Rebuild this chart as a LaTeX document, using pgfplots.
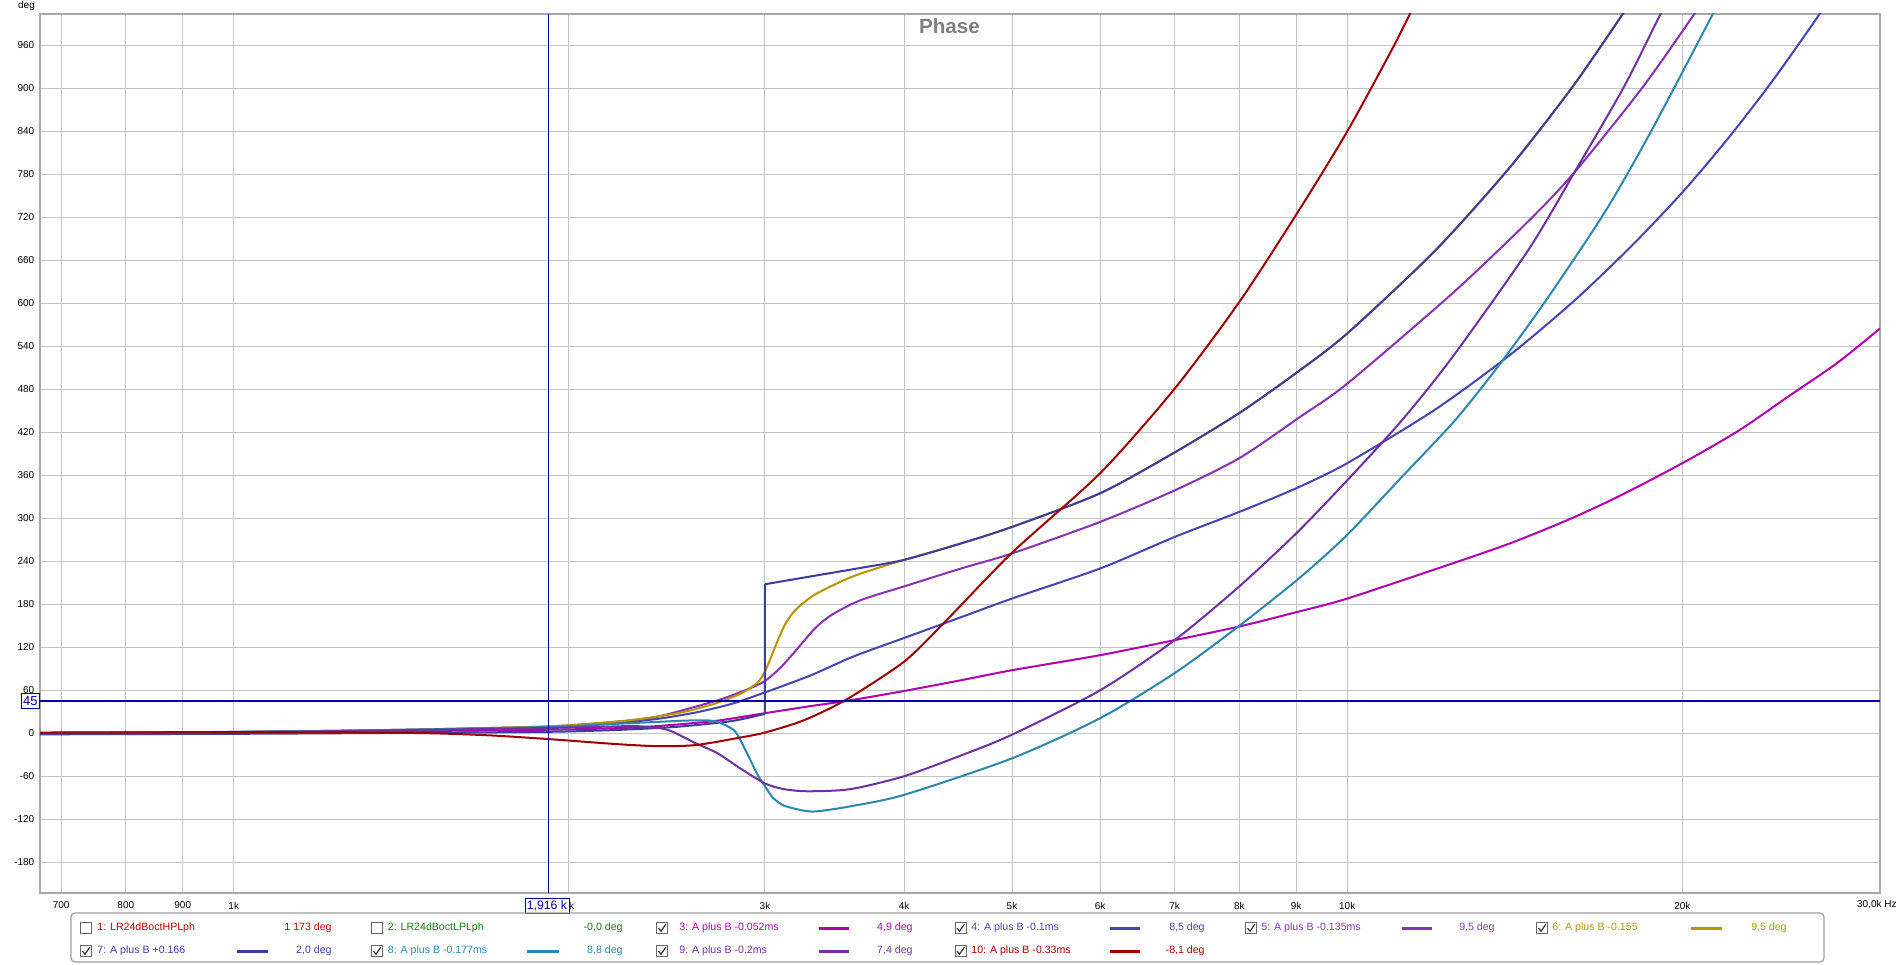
\documentclass[border=0pt]{standalone}
\usepackage{pgfplots}
\pgfplotsset{compat=1.18}
\usepackage{fontspec}
\setmainfont{Liberation Sans}

\definecolor{cthree}{HTML}{B000B0}
\definecolor{cfour}{HTML}{4444B4}
\definecolor{cfive}{HTML}{8A30B4}
\definecolor{csix}{HTML}{B89400}
\definecolor{cseven}{HTML}{3C3CA0}
\definecolor{ceight}{HTML}{2A88B0}
\definecolor{cnine}{HTML}{7030A0}
\definecolor{cten}{HTML}{A00000}
\definecolor{cone}{HTML}{C00000}
\definecolor{ctwo}{HTML}{108010}
\definecolor{cursor}{HTML}{0000A0}
\definecolor{gridgray}{HTML}{C4C4C4}
\definecolor{framegray}{HTML}{A8A8A8}
\definecolor{titlegray}{HTML}{808080}

\newcommand{\tickfont}{\fontsize{5}{6}\selectfont}
\newcommand{\legfont}{\fontsize{5.3}{6}\selectfont}

\begin{document}
\begin{tikzpicture}
\path[use as bounding box] (0,0) rectangle (949.5pt,482pt);
\begin{axis}[
  at={(20pt,35.5pt)}, anchor=south west,
  width=920pt, height=439.5pt, scale only axis,
  xmode=log, log basis x=10,
  xmin=670, xmax=30100, ymin=-223, ymax=1004,
  xtick={700,800,900,1000,2000,3000,4000,5000,6000,7000,8000,9000,10000,20000},
  xticklabels={700,800,900,1k,2k,3k,4k,5k,6k,7k,8k,9k,10k,20k},
  ytick={-180,-120,-60,0,60,120,180,240,300,360,420,480,540,600,660,720,780,840,900,960},
  yticklabels={-180,-120,-60,0,60,120,180,240,300,360,420,480,540,600,660,720,780,840,900,960},
  minor xtick={}, 
  grid=major,
  major grid style={draw=gridgray, line width=0.5pt},
  major tick length=0pt, minor tick length=0pt,
  axis line style={draw=framegray, line width=1pt},
  tick label style={font=\tickfont, text=black},
  yticklabel style={inner sep=0pt, anchor=east, xshift=-2.7pt},
  xticklabel style={inner sep=0pt, anchor=north, yshift=-4.2pt},
  every axis plot/.append style={line width=1pt, line join=round, smooth, tension=0.45},
]
% 3: A plus B -0.052ms
\addplot[cthree] table[row sep=\\] {
f p\\ 670 0.2\\ 800 0.6\\ 1000 1.2\\ 1250 2.2\\ 1500 3.2\\ 1916 4.9\\ 2200 7\\ 2400 10\\ 2700 17\\ 3000 28\\ 3300 38\\ 3580 46\\ 4000 59\\ 4500 74\\ 5000 88\\ 6000 109\\ 7000 130\\ 8000 149\\ 9000 169\\ 10000 188\\ 12430 237\\ 14000 265\\ 15740 297\\ 17500 330\\ 20000 377\\ 22500 423\\ 25000 472\\ 27500 516\\ 30100 565\\
};
% 4: A plus B -0.1ms
\addplot[cfour] table[row sep=\\] {
f p\\ 670 -0.5\\ 800 0.3\\ 1000 1.5\\ 1250 3\\ 1500 5\\ 1916 8.5\\ 2200 14\\ 2400 20\\ 2600 29\\ 2800 41\\ 3000 57\\ 3300 81\\ 3600 107\\ 4000 133\\ 4500 162\\ 5000 188\\ 6000 230\\ 7000 274\\ 8000 309\\ 9000 342\\ 10000 377\\ 12000 452\\ 14000 528\\ 16000 604\\ 18000 680\\ 20000 755\\ 22000 831\\ 24000 907\\ 26000 983\\ 27200 1028\\
};
% 5: A plus B -0.135ms
\addplot[cfive] table[row sep=\\] {
f p\\ 670 0.3\\ 800 0.8\\ 1000 1.8\\ 1250 3.5\\ 1500 5.5\\ 1916 9.5\\ 2200 16\\ 2400 23\\ 2720 46\\ 2900 62\\ 3000 73\\ 3100 92\\ 3200 116\\ 3330 147\\ 3450 166\\ 3660 186\\ 4000 205\\ 4500 230\\ 5000 251\\ 6000 295\\ 7000 339\\ 8000 384\\ 9080 442\\ 10000 488\\ 12430 614\\ 14550 715\\ 16000 783\\ 18430 902\\ 20500 1004\\ 21000 1028\\
};
% 6: A plus B -0.155
\addplot[csix] table[row sep=\\] {
f p\\ 670 0.3\\ 800 0.8\\ 1000 1.8\\ 1250 3.5\\ 1500 5.5\\ 1916 9.5\\ 2200 16\\ 2370 22\\ 2540 30\\ 2700 41\\ 2850 55\\ 2950 70\\ 3000 86\\ 3070 124\\ 3130 153\\ 3200 173\\ 3330 194\\ 3600 219\\ 4000 242\\ 4500 265\\ 5000 288\\ 6000 335\\ 7000 392\\ 8000 447\\ 9000 503\\ 10000 558\\ 12000 674\\ 14000 790\\ 16000 906\\ 18000 1022\\
};
% 7: A plus B +0.166 (three pieces: below the step, the step, above it)
\addplot[cseven] table[row sep=\\] {
f p\\ 670 -1.5\\ 800 -1.2\\ 1000 -0.8\\ 1250 0\\ 1500 0.8\\ 1916 2.0\\ 2200 4.5\\ 2500 9\\ 2800 17\\ 2999 27\\
};
\addplot[cseven, sharp plot] table[row sep=\\] {
f p\\ 2999 27\\ 3000 208\\
};
\addplot[cseven] table[row sep=\\] {
f p\\ 3000 208\\ 3300 219\\ 3600 229\\ 4000 242\\ 4500 265\\ 5000 288\\ 6000 335\\ 7000 392\\ 8000 447\\ 9000 503\\ 10000 558\\ 12000 674\\ 14000 790\\ 16000 906\\ 18000 1022\\
};
% 8: A plus B -0.177ms
\addplot[ceight] table[row sep=\\] {
f p\\ 670 0.3\\ 800 0.8\\ 1000 2\\ 1250 3.5\\ 1500 5.5\\ 1916 8.8\\ 2200 13\\ 2530 17.5\\ 2650 18\\ 2720 16\\ 2810 5\\ 2850 -9\\ 2910 -37\\ 2950 -56\\ 3000 -74\\ 3050 -90\\ 3120 -101\\ 3250 -108\\ 3340 -109\\ 3580 -102\\ 4000 -86\\ 5000 -35\\ 6000 21\\ 7000 84\\ 8000 150\\ 9080 218\\ 10000 277\\ 11200 358\\ 12500 437\\ 13660 512\\ 15020 600\\ 17000 725\\ 18700 837\\ 21300 1004\\ 21700 1030\\
};
% 9: A plus B -0.2ms
\addplot[cnine] table[row sep=\\] {
f p\\ 670 0.2\\ 800 0.7\\ 1000 1.6\\ 1250 3\\ 1500 4.8\\ 1916 7.4\\ 2200 9.5\\ 2300 10\\ 2450 5\\ 2600 -14\\ 2720 -28\\ 2850 -49\\ 3000 -70\\ 3120 -78\\ 3280 -81\\ 3580 -78\\ 4000 -60\\ 4500 -31\\ 5000 -2\\ 6000 60\\ 7000 130\\ 8000 205\\ 9000 279\\ 10000 353\\ 11200 437\\ 12430 525\\ 14550 675\\ 16000 783\\ 17720 902\\ 19060 1000\\ 19500 1030\\
};
% 10: A plus B -0.33ms
\addplot[cten] table[row sep=\\] {
f p\\ 670 1\\ 800 1.3\\ 1000 1.5\\ 1250 1.2\\ 1500 0\\ 1700 -3\\ 1916 -8.1\\ 2200 -15\\ 2400 -18\\ 2600 -16.5\\ 2850 -6\\ 3000 1\\ 3250 18\\ 3550 47\\ 4000 100\\ 4350 155\\ 5000 252\\ 6000 363\\ 7000 481\\ 8000 602\\ 9000 724\\ 10000 840\\ 11000 958\\ 11500 1018\\
};
% cursors
\addplot[cursor, line width=0.6pt, sharp plot] coordinates {(670,45) (30100,45)};
\addplot[cursor, line width=0.6pt, sharp plot] coordinates {(1916,-223) (1916,1004)};
\end{axis}

\begin{scope}[x=0.5pt, y=-0.5pt, shift={(0pt,482pt)}]
  % title and unit labels
  \node[font=\bfseries\fontsize{10.3}{12}\selectfont, text=titlegray] at (949.5,26) {Phase};
  \node[font=\tickfont, inner sep=0pt] at (26.5,6) {deg};
  \node[font=\tickfont, inner sep=0pt, anchor=east] at (1897,905) {30,0k Hz};
  % cursor boxes
  \node[draw=cursor, fill=white, text=cursor, font=\fontsize{6.5}{7}\selectfont, inner sep=0pt,
        minimum width=9pt, minimum height=7pt, line width=0.5pt] at (30.4,701) {45};
  \node[draw=cursor, fill=white, text=cursor, font=\fontsize{6.1}{7}\selectfont, inner sep=0pt,
        minimum width=22pt, minimum height=7.5pt, line width=0.5pt] at (547,905.5) {1,916 k};
  % legend frame
  \draw[draw=gray!75, line width=0.6pt, rounded corners=2pt] (71,913) rectangle (1824,962);
  % checkboxes
  \foreach \cx/\cy/\chk in {86/928/0, 377/928/0, 662/928/1, 960.5/928/1, 1251/928/1, 1542/928/1,
                            86/951/1, 377/951/1, 662/951/1, 960.5/951/1} {
    \draw[draw=gray!80!black, fill=white, line width=0.5pt] (\cx-5.5,\cy-5.5) rectangle (\cx+5.5,\cy+5.5);
    \ifnum\chk=1
      \draw[line width=0.6pt, black!80] (\cx-3.5,\cy+0.2) -- (\cx-1,\cy+3.2) -- (\cx+3.8,\cy-3.8);
    \fi
  }
  % legend texts
  \begin{scope}[every node/.style={font=\legfont, inner sep=0pt}]
    \node[anchor=west, text=cone] at (97,928) {1: LR24dBoctHPLph};
    \node[anchor=east, text=cone] at (332,928) {1 173 deg};
    \node[anchor=west, text=ctwo] at (387.5,928) {2: LR24dBoctLPLph};
    \node[anchor=east, text=ctwo] at (623,928) {-0,0 deg};
    \node[anchor=west, text=cthree] at (679,928) {3: A plus B -0.052ms};
    \draw[cthree, line width=1.5pt] (819,928) -- (849,928);
    \node[anchor=east, text=cthree] at (913,928) {4,9 deg};
    \node[anchor=west, text=cfour] at (971,928) {4: A plus B -0.1ms};
    \draw[cfour, line width=1.5pt] (1110,928) -- (1140,928);
    \node[anchor=east, text=cfour] at (1205,928) {8,5 deg};
    \node[anchor=west, text=cfive] at (1261,928) {5: A plus B -0.135ms};
    \draw[cfive, line width=1.5pt] (1402,928) -- (1432,928);
    \node[anchor=east, text=cfive] at (1495,928) {9,5 deg};
    \node[anchor=west, text=csix] at (1552,928) {6: A plus B -0.155};
    \draw[csix, line width=1.5pt] (1691,928) -- (1722,928);
    \node[anchor=east, text=csix] at (1787,928) {9,5 deg};
    \node[anchor=west, text=cseven] at (97,951) {7: A plus B +0.166};
    \draw[cseven, line width=1.5pt] (237,951) -- (268,951);
    \node[anchor=east, text=cseven] at (332,951) {2,0 deg};
    \node[anchor=west, text=ceight] at (387.5,951) {8: A plus B -0.177ms};
    \draw[ceight, line width=1.5pt] (527,951) -- (559,951);
    \node[anchor=east, text=ceight] at (623,951) {8,8 deg};
    \node[anchor=west, text=cnine] at (679,951) {9: A plus B -0.2ms};
    \draw[cnine, line width=1.5pt] (819,951) -- (849,951);
    \node[anchor=east, text=cnine] at (913,951) {7,4 deg};
    \node[anchor=west, text=cten] at (971,951) {10: A plus B -0.33ms};
    \draw[cten, line width=1.5pt] (1110,951) -- (1140,951);
    \node[anchor=east, text=cten] at (1205,951) {-8,1 deg};
  \end{scope}
\end{scope}
\end{tikzpicture}
\end{document}
